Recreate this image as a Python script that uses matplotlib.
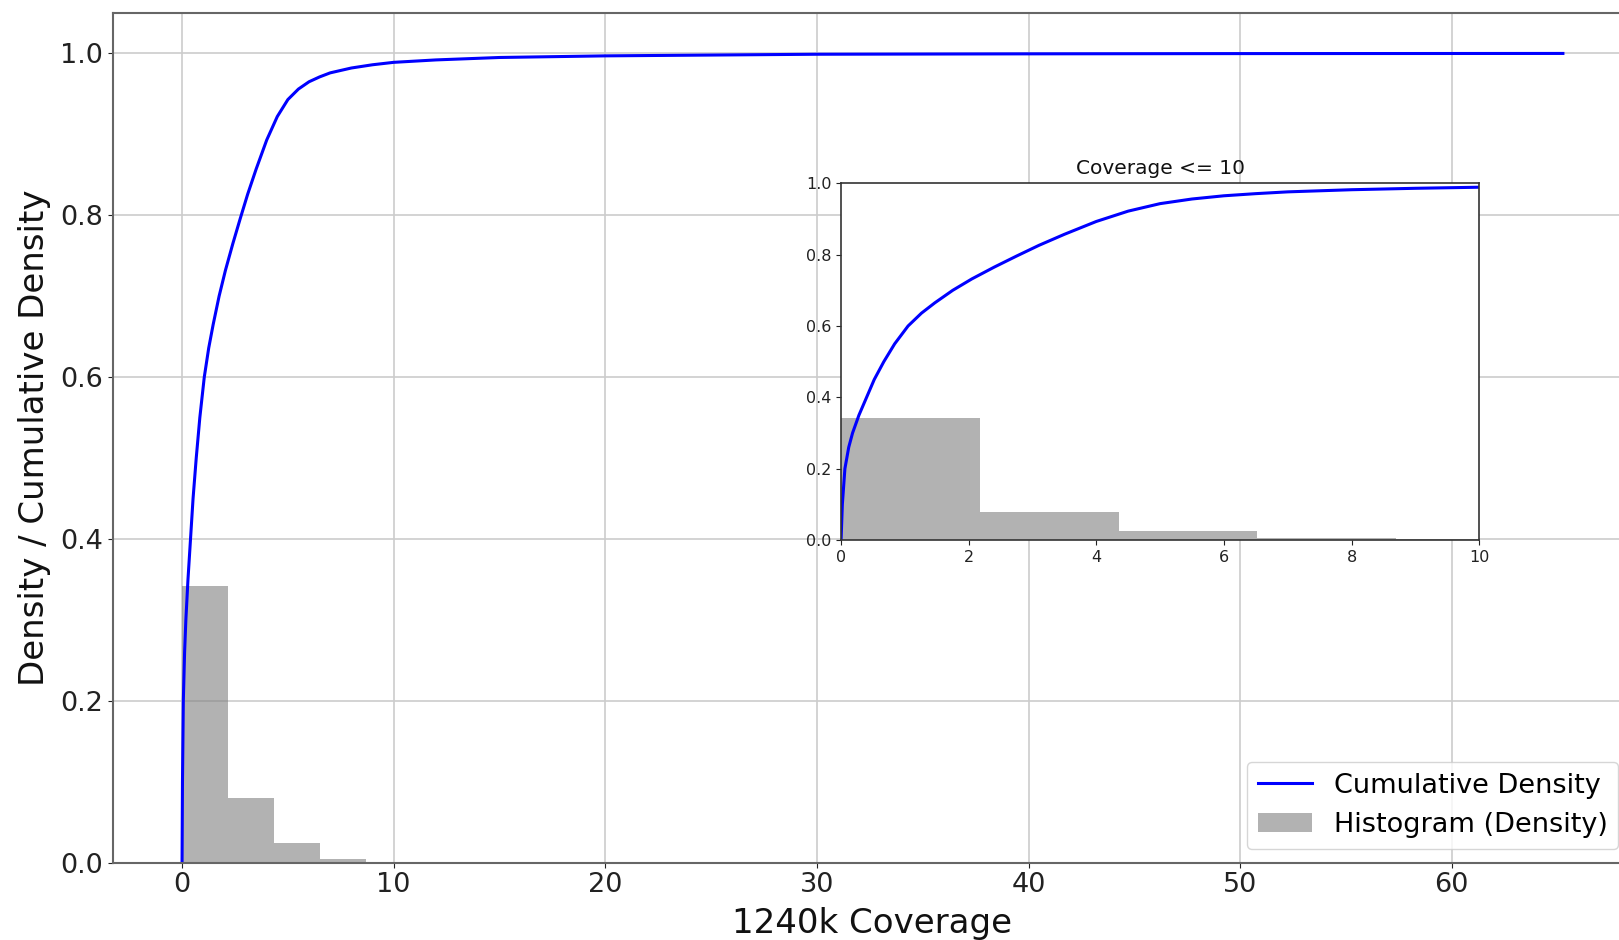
import numpy as np
import matplotlib
matplotlib.use("Agg")
import matplotlib.pyplot as plt
from matplotlib.lines import Line2D
from matplotlib.patches import Patch

# ---- data ----
max_coverage = 65.25
n_bins = 30
hist_density = [0.342, 0.0795, 0.024, 0.0047, 0.0015, 0.0006, 0.0003, 0.0002,
                0.0001, 0.0001, 0.0001, 0.0, 0.0, 0.0, 0.0, 0.0, 0.0, 0.0,
                0.0, 0.0, 0.0, 0.0, 0.0, 0.0, 0.0, 0.0, 0.0, 0.0, 0.0, 0.0001]

cdf_x = [0, 0.02, 0.06, 0.12, 0.18, 0.28, 0.40, 0.52, 0.67, 0.84, 1.05, 1.26,
         1.47, 1.75, 2.05, 2.4, 2.75, 3.1, 3.5, 4.0, 4.5, 5.0, 5.5, 6.0,
         6.5, 7.0, 8.0, 9.0, 10, 12, 15, 20, 25, 30, 40, 50, 65.25]
cdf_y = [0, 0.10, 0.20, 0.26, 0.30, 0.35, 0.40, 0.45, 0.50, 0.55, 0.60, 0.636,
         0.665, 0.70, 0.732, 0.765, 0.796, 0.826, 0.857, 0.893, 0.922, 0.943,
         0.956, 0.965, 0.971, 0.976, 0.982, 0.986, 0.989, 0.992, 0.995, 0.997,
         0.998, 0.999, 0.9995, 0.9998, 1.0]

main_yticks = [0.0, 0.2, 0.4, 0.6, 0.8, 1.0]
main_xticks = [0, 10, 20, 30, 40, 50, 60]
inset_xticks = [0, 2, 4, 6, 8, 10]
inset_yticks = [0.0, 0.2, 0.4, 0.6, 0.8, 1.0]

bin_edges = np.linspace(0, max_coverage, n_bins + 1)

fig = plt.figure(figsize=(16.19, 9.4), dpi=100)
ax = fig.add_axes([0.0698, 0.0822, 0.9382, 0.904])

ax.hist(bin_edges[:-1], bins=bin_edges, weights=hist_density,
        color='gray', alpha=0.6)
ax.plot(cdf_x, cdf_y, color='blue', lw=2.2)
ax.set_ylim(0, 1.05)
ax.set_xticks(main_xticks)
ax.set_yticks(main_yticks)
ax.grid(True, color='#cccccc', lw=1.2)
ax.set_axisbelow(True)
ax.tick_params(labelsize=19.5, colors='#222222')
for s in ax.spines.values():
    s.set_color('#666666')
    s.set_linewidth(1.5)
ax.set_xlabel('1240k Coverage', fontsize=24.5, color='#111111', labelpad=6)
ax.set_ylabel('Density / Cumulative Density', fontsize=24.5, color='#111111',
              labelpad=7)

handles = [Line2D([0], [0], color='blue', lw=2.2),
           Patch(facecolor='gray', alpha=0.6)]
ax.legend(handles, ['Cumulative Density', 'Histogram (Density)'],
          loc='lower right', fontsize=19.5)

# inset
axin = fig.add_axes([0.5195, 0.4255, 0.3941, 0.3795])
axin.hist(bin_edges[:-1], bins=bin_edges, weights=hist_density,
          color='gray', alpha=0.6)
axin.plot(cdf_x, cdf_y, color='blue', lw=2.2)
axin.set_xlim(0, 10)
axin.set_ylim(0, 1)
axin.set_xticks(inset_xticks)
axin.set_yticks(inset_yticks)
axin.tick_params(labelsize=11.5, colors='#222222')
for s in axin.spines.values():
    s.set_color('#333333')
    s.set_linewidth(1.2)
axin.set_title('Coverage <= 10', fontsize=14.5, color='#111111', pad=7)

fig.savefig('out.png', dpi=100)
